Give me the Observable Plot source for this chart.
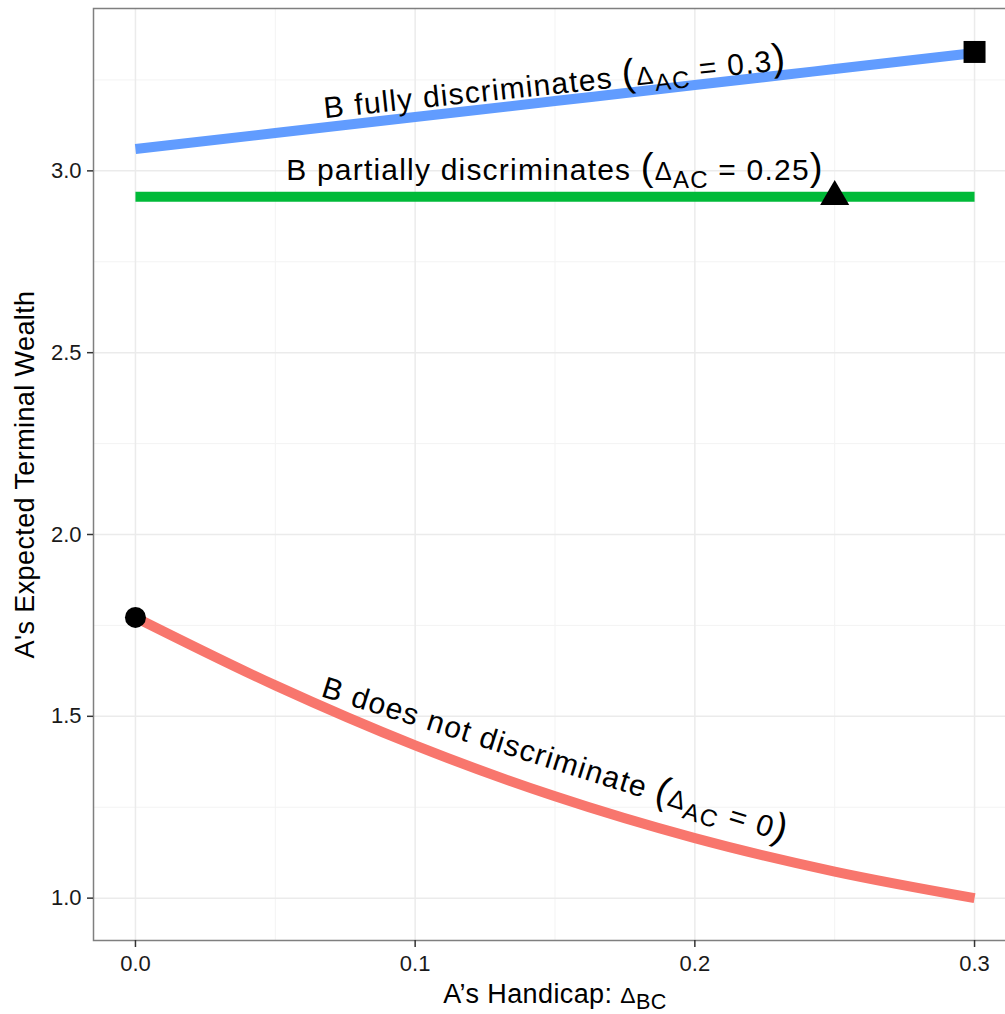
<!DOCTYPE html>
<html>
<head>
<meta charset="utf-8">
<script src="https://cdn.jsdelivr.net/npm/d3@7"></script>
<script src="https://cdn.jsdelivr.net/npm/@observablehq/plot@0.6"></script>
<style>
  html, body { margin: 0; padding: 0; background: #fff; overflow: hidden; }
  #chart { width: 1005px; height: 1014px; overflow: hidden; }
  #chart svg { max-width: none !important; display: block; }
</style>
</head>
<body>
<div id="chart"></div>
<script>
// ---- data ----
const handicap = [0, 0.05, 0.1, 0.15, 0.2, 0.25, 0.3];
const wealthNone = [1.772, 1.585, 1.420, 1.280, 1.165, 1.073, 1.0];
const wealthPartial = [2.929, 2.929, 2.929, 2.929, 2.929, 2.929, 2.929];
const wealthFull = [3.060, 3.104, 3.148, 3.192, 3.236, 3.280, 3.324];

const seriesNames = ["none", "partial", "full"];
const seriesColors = ["#F8766D", "#00BA38", "#619CFF"];

const pointX = [0, 0.25, 0.3];
const pointY = [1.772, 2.929, 3.327];
const pointSymbol = ["circle", "triangle", "square"];
const pointR = [10.5, 10.8, 12.4];

const labelText = [
  "B does not discriminate (Δ_AC = 0)",
  "B partially discriminates (Δ_AC = 0.25)",
  "B fully discriminates (Δ_AC = 0.3)"
];
const labelX = [0.15, 0.15, 0.15];
const labelY = [1.380, 3.0, 3.238];
const labelAngle = [17.5, 0, -6];

const xTicks = [0, 0.1, 0.2, 0.3];
const xMinor = [0.05, 0.15, 0.25];
const yTicks = [1.0, 1.5, 2.0, 2.5, 3.0];
const yMinor = [1.25, 1.75, 2.25, 2.75, 3.25];

const xTitle = "A’s Handicap: Δ_BC";
const yTitle = "A's Expected Terminal Wealth";

// ---- tables built from the arrays ----
const lineRows = [];
[wealthNone, wealthPartial, wealthFull].forEach((vals, s) => {
  handicap.forEach((h, i) => lineRows.push({series: seriesNames[s], x: h, y: vals[i]}));
});
const pointRows = pointX.map((x, i) => ({x, y: pointY[i], symbol: pointSymbol[i], r: pointR[i]}));
const labelRows = labelText.map((t, i) => ({text: t, x: labelX[i], y: labelY[i], angle: labelAngle[i]}));

const LABEL_FS = 30, TITLE_FS = 27, TICK_FS = 22;

const chart = Plot.plot({
  width: 1020,
  height: 1014,
  marginLeft: 93,
  marginRight: 4,
  marginTop: 8,
  marginBottom: 74,
  style: {fontFamily: "'Liberation Sans', Arial, Helvetica, sans-serif", background: "#fff", maxWidth: "none"},
  x: {domain: [-0.015, 0.315]},
  y: {domain: [0.8835, 3.4465]},
  r: {type: "identity"},
  color: {domain: seriesNames, range: seriesColors},
  marks: [
    Plot.ruleX(xMinor, {stroke: "#f3f3f3", strokeWidth: 1}),
    Plot.ruleY(yMinor, {stroke: "#f3f3f3", strokeWidth: 1}),
    Plot.ruleX(xTicks, {stroke: "#ebebeb", strokeWidth: 1.5}),
    Plot.ruleY(yTicks, {stroke: "#ebebeb", strokeWidth: 1.5}),
    Plot.line(lineRows, {x: "x", y: "y", z: "series", stroke: "series", strokeWidth: 10, curve: "monotone-x", strokeLinecap: "butt"}),
    Plot.dot(pointRows, {x: "x", y: "y", symbol: "symbol", r: "r", fill: "black", stroke: "none"}),
    Plot.text(labelRows, {x: "x", y: "y", text: "text", rotate: "angle", fontSize: LABEL_FS, fill: "black", textAnchor: "middle", lineAnchor: "middle"}),
    Plot.frame({stroke: "#7f7f7f", strokeWidth: 1.5}),
    Plot.axisX(xTicks, {tickSize: 7, tickPadding: 8, tickFormat: ".1f", fontSize: TICK_FS, stroke: "#333", strokeWidth: 1.5, fill: "#1a1a1a", label: null}),
    Plot.axisY(yTicks, {tickSize: 6, tickPadding: 6, tickFormat: ".1f", fontSize: TICK_FS, stroke: "#333", strokeWidth: 1.5, fill: "#1a1a1a", label: null}),
    Plot.text([xTitle], {frameAnchor: "bottom", dy: 54, fontSize: TITLE_FS, fill: "black", textAnchor: "middle", lineAnchor: "middle"}),
    Plot.text([yTitle], {frameAnchor: "left", dx: -68, rotate: -90, fontSize: TITLE_FS, fill: "black", textAnchor: "middle", lineAnchor: "middle"})
  ]
});

// ---- plotmath-like formatting: big parens, Δ, subscripts ----
const NS = "http://www.w3.org/2000/svg";
d3.select(chart).selectAll("text").each(function() {
  const s = this.textContent;
  const isTitle = s === xTitle || s === yTitle;
  const isLabel = labelText.includes(s);
  if (isTitle) this.setAttribute("letter-spacing", "0.4");
  if (isLabel) this.setAttribute("letter-spacing", "1.2");
  if (!s.includes("Δ")) return;
  const fs = isTitle ? TITLE_FS : LABEL_FS;
  const shift = isTitle ? fs * 0.2 : fs * 0.25;
  const parts = s.split(/(\(|\)|Δ|_[A-Z]+)/).filter(p => p !== "");
  this.textContent = "";
  let shifted = 0;
  for (const p of parts) {
    const t = document.createElementNS(NS, "tspan");
    if (p.startsWith("_")) {
      t.setAttribute("font-size", fs * 0.8);
      t.setAttribute("dy", shift);
      shifted = shift;
      t.textContent = p.slice(1);
    } else {
      if (shifted) { t.setAttribute("dy", -shifted); shifted = 0; }
      if (p === "(" || p === ")") t.setAttribute("font-size", fs * 1.28);
      else if (p === "Δ") t.setAttribute("font-size", fs * 0.85);
      t.textContent = p;
    }
    this.appendChild(t);
  }
});

document.getElementById("chart").appendChild(chart);
</script>
</body>
</html>
